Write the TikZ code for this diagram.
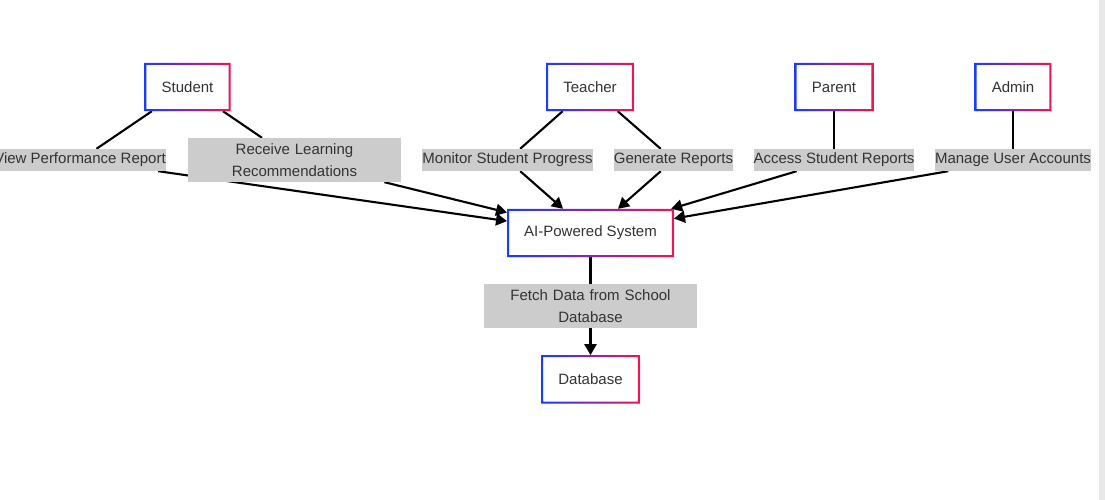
\documentclass[tikz,border=0pt]{standalone}
\usepackage{fontspec}
\setmainfont{Liberation Sans}
\usetikzlibrary{%
   arrows.meta,%
   calc,%
   positioning,%
   backgrounds,%
   shadows}
\definecolor{gblue}{RGB}{25,60,255}
\definecolor{gred}{RGB}{240,20,85}
\definecolor{txt}{RGB}{51,51,51}

\begin{document}
\begin{tikzpicture}
[x=1pt, y=-1pt,
 font=\fontsize{15}{22}\selectfont,
 box/.style={rectangle, fill=white, text=txt, minimum height=48pt, inner xsep=17pt, inner ysep=0pt,
   drop shadow={opacity=0.12, shadow xshift=1pt, shadow yshift=-1pt}},
 lab/.style={rectangle, fill=black!20, text=txt, inner sep=0pt, minimum height=22pt},
 lab2/.style={lab, text width=213pt, align=center, minimum height=44pt},
 line/.style={line width=2.1pt},
 pfeil/.style={-{Triangle[length=11pt, width=12pt]}, line width=2.1pt}]
\useasboundingbox (0,0) rectangle (1105,500);
\fill[black!9] (1099,0) rectangle (1105,500);
\node (sys) [box] at (590.5,233) {AI-Powered System};
\node (db) [box, below=98pt of sys] {Database};
\node (student) [box] at (187.5,87) {Student};
\node (teacher) [box] at (590,87) {Teacher};
\node (parent) [box] at (834,87) {Parent};
\node (admin) [box] at (1013,87) {Admin};
% labels on the edges
\node (lview) [lab] at (80,160) {View Performance Report};
\node (lrecv) [lab2] at (294.5,160) {Receive Learning\\ Recommendations};
\node (lmoni) [lab] at (507.5,160) {Monitor Student Progress};
\node (lgene) [lab] at (673.5,160) {Generate Reports};
\node (lacce) [lab] at (834,160) {Access Student Reports};
\node (lmana) [lab] at (1013,160) {Manage User Accounts};
\node (lfetc) [lab2] at ($(sys)!0.5!(db)$) {Fetch Data from School\\ Database};
% gradient frames
\foreach \n in {student,teacher,parent,admin,sys,db}
  \shade[left color=gblue, right color=gred, even odd rule]
    (\n.south west) rectangle (\n.north east)
    ($(\n.south west)+(2pt,2pt)$) rectangle ($(\n.north east)+(-2pt,-2pt)$);
\begin{pgfonlayer}{background}
\draw[line] (student) -- (lview);
\draw[pfeil] (lview) -- (sys);
\draw[line] (student) -- (lrecv);
\draw[pfeil] (lrecv) -- (sys);
\draw[line] (teacher) -- (lmoni);
\draw[pfeil] (lmoni) -- (sys);
\draw[line] (teacher) -- (lgene);
\draw[pfeil] (lgene) -- (sys);
\draw[line] (parent) -- (lacce);
\draw[pfeil] (lacce) -- (sys);
\draw[line] (admin) -- (lmana);
\draw[pfeil] (lmana) -- (sys);
\draw[line] (sys) -- (lfetc);
\draw[pfeil] (lfetc) -- (db);
\end{pgfonlayer}
\end{tikzpicture}
\end{document}
